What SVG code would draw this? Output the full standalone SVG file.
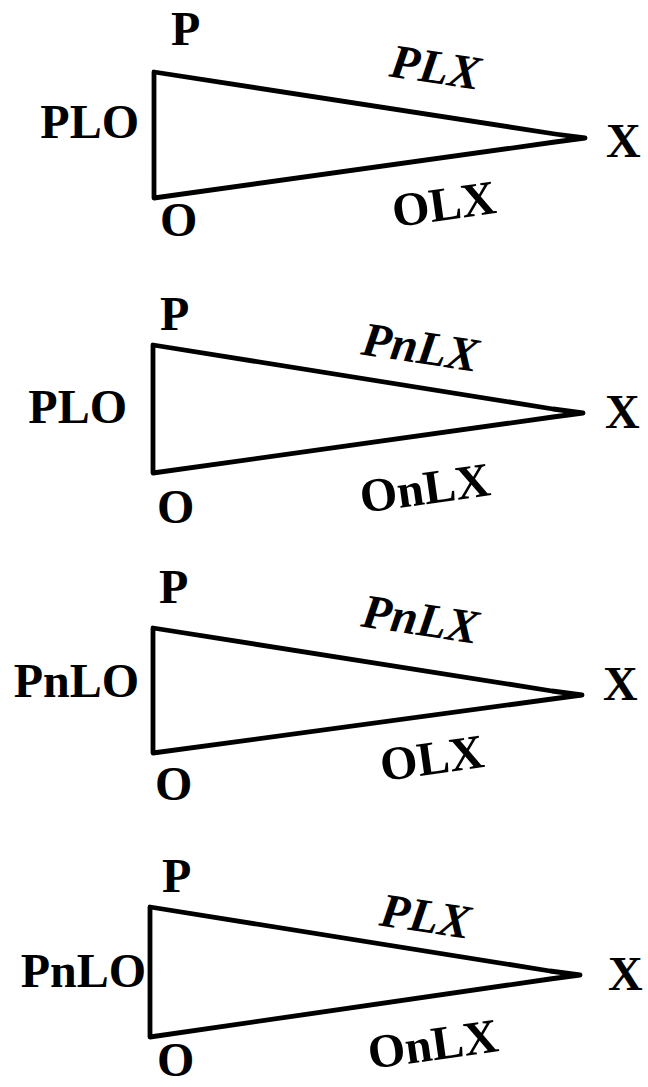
<svg xmlns="http://www.w3.org/2000/svg" width="648" height="1087" viewBox="0 0 648 1087">
<style>
.edge{fill:none;stroke:#000;stroke-width:4.8;stroke-linejoin:round;stroke-linecap:round}
.lbl{font-family:"Liberation Serif","Times New Roman",serif;font-weight:bold;font-size:48px;fill:#000}
.it{font-style:italic}
</style>
<rect width="648" height="1087" fill="#fff"/>
<g id="connectors">
<path class="edge" d="M154,198 L154,72 L555,134 L585,138 M154,198 L555,142 L585,138"/>
<path class="edge" d="M153,473 L153,345 L553,409 L583,413 M153,473 L553,417 L583,413"/>
<path class="edge" d="M153,753 L153,628 L552,691 L582,695 M153,753 L552,699 L582,695"/>
<path class="edge" d="M150,1037 L150,907 L550,971 L580,975 M150,1037 L550,979 L580,975"/>
</g>
<g id="tri1">
<text class="lbl" x="171" y="45">P</text>
<text class="lbl" x="139" y="138" text-anchor="end">PLO</text>
<text class="lbl" x="606" y="157">X</text>
<text class="lbl" x="160" y="236">O</text>
<text class="lbl it" text-anchor="middle" transform="translate(433,83) rotate(8.7)">PLX</text>
<text class="lbl" text-anchor="middle" transform="translate(446,220) rotate(-8)">OLX</text>
</g>
<g id="tri2">
<text class="lbl" x="160" y="330">P</text>
<text class="lbl" x="127" y="423" text-anchor="end">PLO</text>
<text class="lbl" x="605" y="428">X</text>
<text class="lbl" x="157" y="523">O</text>
<text class="lbl it" text-anchor="middle" transform="translate(418,363) rotate(8.7)">PnLX</text>
<text class="lbl" text-anchor="middle" transform="translate(427,504) rotate(-8)">OnLX</text>
</g>
<g id="tri3">
<text class="lbl" x="159" y="603">P</text>
<text class="lbl" x="139" y="697" text-anchor="end">PnLO</text>
<text class="lbl" x="603" y="700">X</text>
<text class="lbl" x="155" y="800">O</text>
<text class="lbl it" text-anchor="middle" transform="translate(418,635) rotate(8.7)">PnLX</text>
<text class="lbl" text-anchor="middle" transform="translate(434,774) rotate(-8)">OLX</text>
</g>
<g id="tri4">
<text class="lbl" x="162" y="892">P</text>
<text class="lbl" x="146" y="987" text-anchor="end">PnLO</text>
<text class="lbl" x="608" y="990">X</text>
<text class="lbl" x="157" y="1076">O</text>
<text class="lbl it" text-anchor="middle" transform="translate(423,932) rotate(8.7)">PLX</text>
<text class="lbl" text-anchor="middle" transform="translate(435,1060) rotate(-8)">OnLX</text>
</g>
</svg>
